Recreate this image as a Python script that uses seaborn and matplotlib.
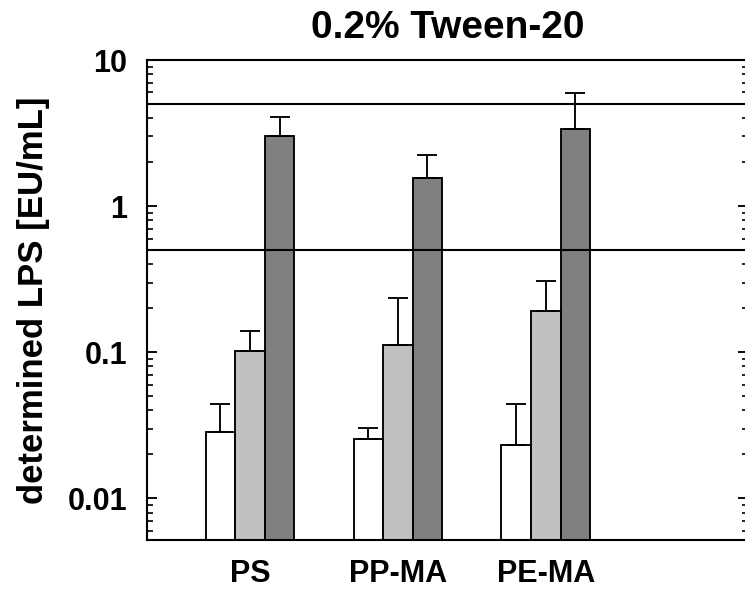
import numpy as np
import pandas as pd
import matplotlib
matplotlib.use("Agg")
import matplotlib.pyplot as plt
import seaborn as sns
from matplotlib.ticker import FixedLocator, LogLocator, NullFormatter

# ---- data ----
categories = ["PS", "PP-MA", "PE-MA"]
series = ["low", "medium", "high"]
values_low = [0.0285, 0.0255, 0.0233]
values_mid = [0.1026, 0.113, 0.193]
values_high = [3.04, 1.55, 3.36]
upper_low = [0.0445, 0.0303, 0.0444]
upper_mid = [0.139, 0.234, 0.31]
upper_high = [4.09, 2.25, 5.98]
limit_lines = [0.5, 5]
colors = ["#ffffff", "#c0c0c0", "#808080"]
y_ticks = [0.01, 0.1, 1, 10]
y_tick_labels = ["0.01", "0.1", "1", "10"]
title = "0.2% Tween-20"
ylabel = "determined LPS [EU/mL]"

rows = []
for s, vals in zip(series, [values_low, values_mid, values_high]):
    for c, v in zip(categories, vals):
        rows.append({"material": c, "series": s, "LPS": v})
df = pd.DataFrame(rows)
uppers = [upper_low, upper_mid, upper_high]

sns.set_style("ticks")
plt.rcParams["font.family"] = ["Liberation Sans", "DejaVu Sans"]
plt.rcParams["font.weight"] = "bold"
plt.rcParams["text.color"] = "black"
plt.rcParams["axes.labelcolor"] = "black"
plt.rcParams["xtick.color"] = "black"
plt.rcParams["ytick.color"] = "black"

W, H = 745, 592
fig = plt.figure(figsize=(W / 100, H / 100), dpi=100)
ax = fig.add_axes([147 / W, (H - 540) / H, 601 / W, 480 / H])

sns.barplot(data=df, x="material", y="LPS", hue="series", order=categories,
            hue_order=series, palette=colors, saturation=1, edgecolor="black",
            linewidth=1.35, width=0.6, errorbar=None, legend=False, ax=ax, zorder=2)
ax.set_yscale("log")

for container, ups in zip(ax.containers, uppers):
    for bar, up in zip(container, ups):
        x = bar.get_x() + bar.get_width() / 2
        h = bar.get_height()
        ax.errorbar([x], [h], yerr=[[0], [up - h]], fmt="none", ecolor="black",
                    elinewidth=1.35, capsize=7, capthick=1.35, zorder=3)

for v in limit_lines:
    ax.axhline(v, color="black", linewidth=1.5, zorder=4)

ax.set_ylim(0.0052, 10)
ax.set_xlim(-0.697, 3.368)

ax.yaxis.set_major_locator(FixedLocator(y_ticks))
ax.set_yticklabels(y_tick_labels)
ax.yaxis.set_minor_locator(LogLocator(base=10, subs=np.arange(2, 10)))
ax.yaxis.set_minor_formatter(NullFormatter())
ax.tick_params(axis="y", which="major", direction="in", left=True, right=True,
               length=7, width=1.35, labelsize=22, pad=14, colors="black")
ax.tick_params(axis="y", which="minor", direction="in", left=True, right=True,
               length=4.5, width=1.2, colors="black")
ax.tick_params(axis="x", length=0, labelsize=22, pad=14, colors="black")
for lab in ax.get_xticklabels() + ax.get_yticklabels():
    lab.set_fontweight("bold")

for sp in ax.spines.values():
    sp.set_linewidth(1.5)
    sp.set_color("black")

ax.set_xlabel("")
ax.set_ylabel(ylabel, fontsize=25, fontweight="bold", labelpad=13, color="black")
ax.set_title(title, fontsize=28, fontweight="bold", pad=16, color="black")

fig.savefig("out.png", dpi=100)
